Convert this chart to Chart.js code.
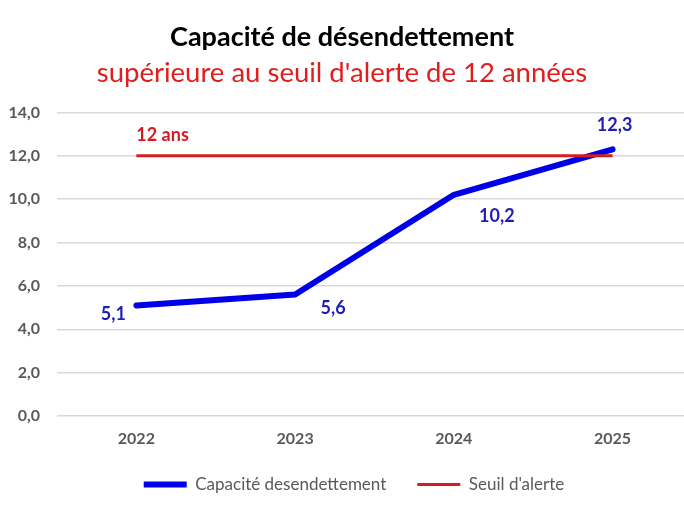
<!DOCTYPE html>
<html><head><meta charset="utf-8">
<script src="https://cdn.jsdelivr.net/npm/chart.js@4.4.1/dist/chart.umd.min.js"></script>
<style>html,body{margin:0;padding:0;background:#fff}#wrap{width:684px;height:513px}</style>
</head><body><div id="wrap"><canvas id="c" width="684" height="513"></canvas></div>
<script>
const years = [2022, 2023, 2024, 2025];
const capacite = [5.1, 5.6, 10.2, 12.3];
const seuil = [12, 12, 12, 12];
const yTicks = [0, 2, 4, 6, 8, 10, 12, 14];
const titleText = 'Capacité de désendettement';
const subtitleText = "supérieure au seuil d'alerte de 12 années";
const seriesNames = ['Capacité desendettement', "Seuil d'alerte"];
const seuilLabel = '12 ans';
// label offsets (style only)
const labelOffsets = [[-23, 9], [38, 14], [43, 21], [2, -24]];

const FONT = 'Lato, "Open Sans", sans-serif';
const fmt = v => v.toFixed(1).replace('.', ',');

const labelPlugin = {
  id: 'labels',
  beforeDraw(chart) {
    // shift legend slightly right, like the original layout
    const l = chart.legend;
    l.left = 12; l.right = chart.width + 12;
  },
  afterDatasetsDraw(chart) {
    const ctx = chart.ctx;
    const meta = chart.getDatasetMeta(0);
    ctx.save();
    ctx.font = 'bold 18px ' + FONT;
    ctx.fillStyle = '#1E1EB4';
    ctx.textAlign = 'center';
    ctx.textBaseline = 'middle';
    meta.data.forEach((pt, i) => {
      const o = labelOffsets[i];
      ctx.fillText(fmt(capacite[i]), pt.x + o[0], pt.y + o[1]);
    });
    const m2 = chart.getDatasetMeta(1);
    const p0 = m2.data[0];
    ctx.font = 'bold 18px ' + FONT;
    ctx.fillStyle = '#D41C22';
    ctx.textAlign = 'left';
    ctx.fillText(seuilLabel, p0.x, p0.y - 21);
    ctx.restore();
  }
};

new Chart(document.getElementById('c'), {
  type: 'line',
  data: {
    datasets: [
      { label: seriesNames[0], data: years.map((y, i) => ({x: y, y: capacite[i]})),
        borderColor: '#0000E8', backgroundColor: '#0000E8', borderWidth: 6, pointRadius: 0,
        borderJoinStyle: 'round', borderCapStyle: 'round', order: 1 },
      { label: seriesNames[1], data: years.map((y, i) => ({x: y, y: seuil[i]})),
        borderColor: '#D41C22', backgroundColor: '#D41C22', borderWidth: 3, pointRadius: 0, order: 0 }
    ]
  },
  options: {
    responsive: false, animation: false,
    layout: { padding: { left: 0, right: 0, top: 0, bottom: 10 } },
    plugins: {
      tooltip: { enabled: false },
      title: { display: true, text: titleText, color: '#000',
        font: { family: FONT, size: 27, weight: 'bold' }, padding: { top: 21, bottom: 0 } },
      subtitle: { display: true, text: subtitleText, color: '#E01E1E',
        font: { family: FONT, size: 27.5, weight: 'normal' }, padding: { top: 3, bottom: 23 } },
      legend: { position: 'bottom',
        labels: { usePointStyle: true, pointStyle: 'line', pointStyleWidth: 43, padding: 31,
          color: '#595959', font: { family: FONT, size: 17 },
          sort: (a, b) => a.datasetIndex - b.datasetIndex } }
    },
    scales: {
      x: { type: 'linear', min: 2021.5, max: 2025.45,
        afterBuildTicks: s => { s.ticks = years.map(v => ({ value: v })); },
        afterFit: s => { s.height = 29; },
        grid: { display: false, drawTicks: false }, border: { display: false },
        ticks: { padding: 13, color: '#595959', font: { family: FONT, size: 16, weight: 'bold' },
          callback: v => String(v), autoSkip: false, maxRotation: 0 } },
      y: { min: 0, max: 14,
        afterBuildTicks: s => { s.ticks = yTicks.map(v => ({ value: v })); },
        afterFit: s => { s.width = 57; },
        grid: { color: '#D9D9D9', lineWidth: 1.5, drawTicks: false }, border: { display: false },
        ticks: { padding: 17, color: '#595959', font: { family: FONT, size: 16, weight: 'bold' },
          callback: v => fmt(v) } }
    }
  },
  plugins: [labelPlugin]
});
</script></body></html>
